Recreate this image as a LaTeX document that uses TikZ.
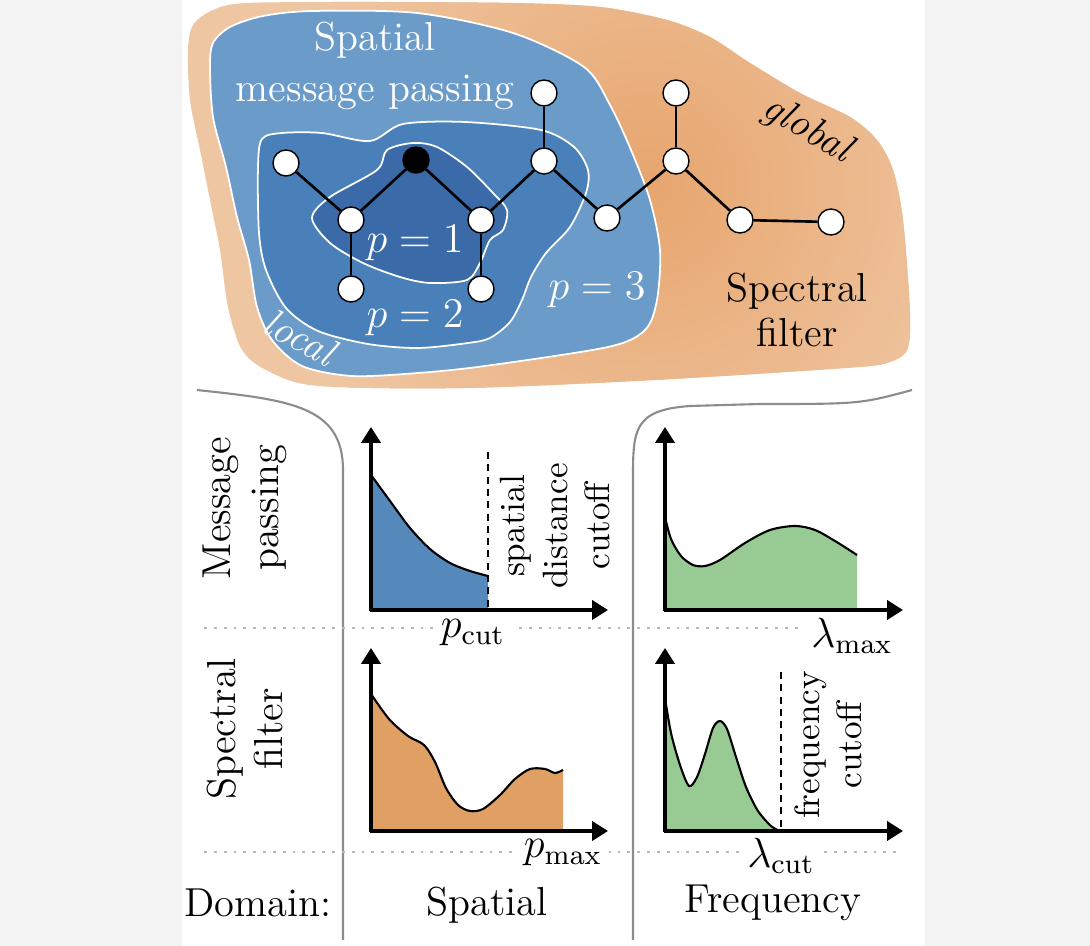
\documentclass[tikz,border=0pt]{standalone}
\usetikzlibrary{arrows.meta}
\definecolor{panelgray}{HTML}{F3F3F3}
\definecolor{peach}{HTML}{EFC6A2}
\definecolor{peachdark}{HTML}{E7A56E}
\definecolor{blueout}{HTML}{6B9BC8}
\definecolor{bluemid}{HTML}{4A80B9}
\definecolor{bluein}{HTML}{3A6AA8}
\definecolor{plotblue}{HTML}{5589BC}
\definecolor{plotorange}{HTML}{E0A064}
\definecolor{plotgreen}{HTML}{97CB93}
\definecolor{sepgray}{HTML}{8C8C8C}
\definecolor{dotgray}{HTML}{B4B8C8}

\begin{document}
\begin{tikzpicture}[x=0.01cm,y=-0.01cm]
  \tikzstyle{vertex}=[circle,draw,fill=white,line width=0.4pt,minimum size=0.26cm,inner sep=0pt]
  \tikzstyle{edge}=[line width=0.75pt]
  \tikzstyle{txt}=[font=\fontsize{11.5}{13.8}\selectfont]
  \tikzstyle{small}=[font=\fontsize{10}{12}\selectfont]
  \tikzstyle{region}=[draw=white,line width=0.5pt]
  \tikzstyle{axis}=[line width=1pt,-{Triangle[length=4.5pt,width=5.4pt]}]
  \tikzstyle{curve}=[line width=0.6pt]
  \tikzstyle{cut}=[line width=0.5pt,dash pattern=on 2pt off 1.5pt]
  \tikzstyle{sep}=[sepgray,line width=0.6pt]
  \tikzstyle{dots}=[dotgray,line width=0.6pt,dash pattern=on 0.8pt off 2pt]
  \tikzstyle{tick}=[txt,fill=white,inner sep=2pt]

  \useasboundingbox (0,0) rectangle (1090,946);
  \fill[panelgray] (0,0) rectangle (1090,946);
  \fill[white] (182,0) rectangle (925,946);

  \begin{scope}
    \clip plot[smooth cycle] coordinates {(213,10) (247,3) (370,2) (513,3) (600,7) (667,20) (710,37) (750,63) (800,93) (850,117) (877,140) (893,170) (903,220) (910,313) (907,350) (887,363) (845,368) (655,380) (465,388) (318,386) (268,371) (242,350) (228,307) (220,250) (210,200) (200,150) (190,100) (188,50) (193,25)};
    \fill[peach] (180,0) rectangle (930,400);
    \shade[inner color=peachdark,outer color=peach] (645,185) circle[radius=3.6cm];
  \end{scope}

  \filldraw[region,fill=blueout] plot[smooth cycle] coordinates {(230,27) (263,16) (313,11) (417,13) (513,33) (584,67) (610,105) (631,150) (650,200) (660,250) (657,300) (645,330) (608,347) (485,366) (418,373) (352,376) (302,366) (272,340) (257,307) (249,260) (237,217) (226,167) (213,117) (210,67) (213,43)};
  \filldraw[region,fill=bluemid] plot[smooth cycle] coordinates {(262,139) (282,133) (322,133) (370,141) (403,124) (465,122) (541,130) (574,147) (588,170) (586,193) (570,227) (546,253) (531,277) (522,300) (510,322) (490,338) (468,343) (418,348) (368,344) (318,331) (286,308) (266,270) (259,233) (258,167)};
  \filldraw[region,fill=bluein] plot[smooth cycle] coordinates {(312,218) (330,197) (377,170) (387,150) (413,143) (437,147) (467,167) (493,193) (507,210) (503,230) (490,240) (480,263) (467,280) (430,283) (400,277) (363,263) (330,243)};

  \node[txt,white,align=center,font=\fontsize{11.5}{14.7}\selectfont] (title) at (375,66) {Spatial\\message passing};
  \node[txt,rotate=-30] (global) at (807,130) {\itshape global};
  \node[txt,white,rotate=-28] (local) at (300,337) {\itshape local};
  \node[txt,white] (p1) at (415,243) {$p=1$};
  \node[txt,white] (p2) at (415,318) {$p=2$};
  \node[txt,white] (p3) at (597,290) {$p=3$};
  \node[txt,align=center,font=\fontsize{11.5}{12.8}\selectfont] (spec) at (797,310) {Spectral\\filter};

  \node[vertex] (a) at (286,163) {};
  \node[vertex,fill=black] (b) at (416,160) {};
  \node[vertex] (c) at (351,220) {};
  \node[vertex] (d) at (481,220) {};
  \node[vertex] (e) at (351,289) {};
  \node[vertex] (f) at (481,289) {};
  \node[vertex] (g) at (544,93) {};
  \node[vertex] (h) at (544,161) {};
  \node[vertex] (i) at (607,218) {};
  \node[vertex] (j) at (676,93) {};
  \node[vertex] (k) at (676,161) {};
  \node[vertex] (l) at (740,220) {};
  \node[vertex] (m) at (831,222) {};

  \draw[edge] (a) -- (c);
  \draw[edge] (c) -- (b);
  \draw[edge] (b) -- (d);
  \draw[edge] (c) -- (e);
  \draw[edge] (d) -- (f);
  \draw[edge] (d) -- (h);
  \draw[edge] (h) -- (g);
  \draw[edge] (h) -- (i);
  \draw[edge] (i) -- (k);
  \draw[edge] (k) -- (j);
  \draw[edge] (k) -- (l);
  \draw[edge] (l) -- (m);

  \draw[sep] (197,390) .. controls (290,400) and (343,406) .. (343,470) -- (343,940);
  \draw[sep] (912,390) .. controls (860,404) .. (760,404) -- (690,406) .. controls (633,410) and (633,430) .. (633,480) -- (633,940);

  \draw[dots] (204,628) -- (900,628);
  \draw[dots] (204,852) -- (900,852);
  \node[tick] (pcut) at (473,633) {$p_{\mathrm{cut}}$};
  \node[tick] (lmax) at (852,636) {$\lambda_{\max}$};
  \node[tick] (pmax) at (563,853) {$p_{\max}$};
  \node[tick] (lcut) at (781,856) {$\lambda_{\mathrm{cut}}$};

  \node[txt,rotate=90,align=center,font=\fontsize{11.5}{13.6}\selectfont] (mprow) at (245,508) {Message\\passing};
  \node[txt,rotate=90,align=center,font=\fontsize{11.5}{13.6}\selectfont] (sfrow) at (245,729) {Spectral\\filter};
  \node[txt] (domain) at (258,903) {Domain:};
  \node[txt] (spatial) at (487,905) {Spatial};
  \node[txt] (freq) at (773,903) {Frequency};

  % message passing, spatial
  \coordinate (o1) at (371,610);
  \coordinate (y1) at (371,427);
  \coordinate (x1) at (608,610);
  \fill[plotblue] (o1) -- plot[smooth] coordinates {(371,475) (390,501) (410,528) (430,549) (450,563) (470,571) (488,576)} -- (488,610) -- cycle;
  \draw[curve] plot[smooth] coordinates {(371,475) (390,501) (410,528) (430,549) (450,563) (470,571) (488,576)};
  \coordinate (c1) at (488,452);
  \coordinate (c1b) at (488,610);
  \draw[cut] (c1) -- (c1b);
  \draw[axis] (371,611) -- (y1);
  \draw[axis] (370,610) -- (x1);
  \node[small,rotate=90,align=center] (sdc) at (555,526) {spatial\\distance\\cutoff};

  % message passing, frequency
  \coordinate (o2) at (665,610);
  \coordinate (y2) at (665,427);
  \coordinate (x2) at (903,610);
  \fill[plotgreen] (o2) -- plot[smooth] coordinates {(665,517) (671,539) (681,556) (693,565) (705,566) (720,560) (745,543) (770,530) (795,526) (815,530) (835,541) (857,555)} -- (857,610) -- cycle;
  \draw[curve] plot[smooth] coordinates {(665,517) (671,539) (681,556) (693,565) (705,566) (720,560) (745,543) (770,530) (795,526) (815,530) (835,541) (857,555)};
  \draw[axis] (665,611) -- (y2);
  \draw[axis] (664,610) -- (x2);

  % spectral filter, spatial
  \coordinate (o3) at (371,831);
  \coordinate (y3) at (371,648);
  \coordinate (x3) at (608,831);
  \fill[plotorange] (o3) -- plot[smooth] coordinates {(371,694) (389,719) (408,736) (424,745) (435,762) (446,788) (458,805) (470,811) (483,809) (500,795) (515,779) (530,769) (545,769) (555,773) (563,770)} -- (563,831) -- cycle;
  \draw[curve] plot[smooth] coordinates {(371,694) (389,719) (408,736) (424,745) (435,762) (446,788) (458,805) (470,811) (483,809) (500,795) (515,779) (530,769) (545,769) (555,773) (563,770)};
  \draw[axis] (371,832) -- (y3);
  \draw[axis] (370,831) -- (x3);

  % spectral filter, frequency
  \coordinate (o4) at (665,831);
  \coordinate (y4) at (665,648);
  \coordinate (x4) at (903,831);
  \fill[plotgreen] (o4) -- plot[smooth] coordinates {(665,698) (671,733) (680,765) (689,786) (697,777) (705,754) (713,728) (720,721) (727,729) (736,757) (746,787) (758,811) (771,826) (780,831)} -- cycle;
  \draw[curve] plot[smooth] coordinates {(665,698) (671,733) (680,765) (689,786) (697,777) (705,754) (713,728) (720,721) (727,729) (736,757) (746,787) (758,811) (771,826) (780,831)};
  \coordinate (c4) at (781,672);
  \coordinate (c4b) at (781,831);
  \draw[cut] (c4) -- (c4b);
  \draw[axis] (665,832) -- (y4);
  \draw[axis] (664,831) -- (x4);
  \node[small,rotate=90,align=center] (fc) at (828,745) {frequency\\cutoff};
\end{tikzpicture}
\end{document}
